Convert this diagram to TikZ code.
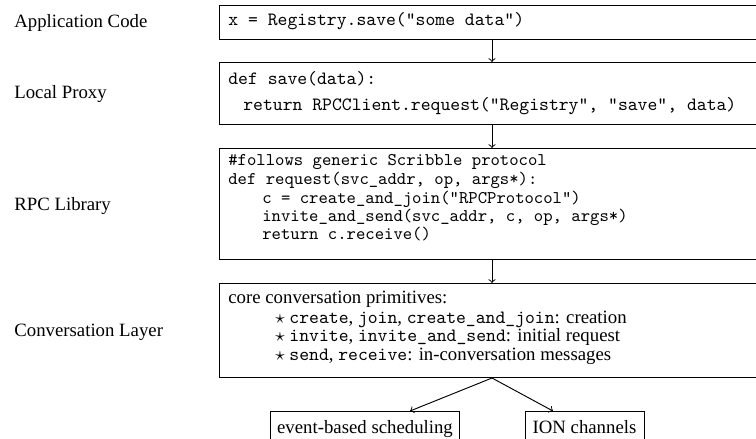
\documentclass[tikz,border=0pt]{standalone}
\usepackage{fontspec}
\setmainfont{Liberation Serif}
\begin{document}
\begin{tikzpicture}[x=0.5325pt,y=-0.5325pt,
  layer/.style={draw, line width=0.5pt, minimum width=290.7pt, anchor=north, inner sep=0pt},
  leaf/.style={draw, line width=0.5pt, anchor=north, inner xsep=3.33pt, inner ysep=5pt},
  tier/.style={anchor=base west, inner sep=0pt, font=\fontsize{10}{12}\selectfont},
  code/.style={anchor=base west, inner sep=0pt, font=\fontsize{10}{12}\ttfamily},
  smallcode/.style={anchor=base west, inner sep=0pt, font=\fontsize{9.5}{11}\ttfamily},
  prose/.style={anchor=base west, inner sep=0pt, font=\fontsize{10}{12}\selectfont},
  arrow/.style={->, line width=0.5pt}]
\useasboundingbox (0,0) rectangle (756,439);

% layer names
\node[tier] (tapp)  at (14,28)  {Application Code};
\node[tier] (tprox) at (14,99)  {Local Proxy};
\node[tier] (trpc)  at (14,211) {RPC Library};
\node[tier] (tconv) at (14,337) {Conversation Layer};

% layer boxes
\node[layer, minimum height=18.1pt] (app)   at (492,5)   {};
\node[layer, minimum height=33.0pt] (proxy) at (492,62)  {};
\node[layer, minimum height=59.1pt] (rpc)   at (492,148) {};
\node[layer, minimum height=50.1pt] (conv)  at (492,283) {};

% application code
\node[code] (c1) at (228,26) {x = Registry.save("some data")};

% local proxy
\node[code] (p1) at (228,85)  {def save(data):};
\node[code] (p2) at (243,111) {return RPCClient.request("Registry", "save", data)};

% rpc library
\node[smallcode] (r1) at (228,166) {\#follows generic Scribble protocol};
\node[smallcode] (r2) at (228,185) {def request(svc\_addr, op, args*):};
\node[smallcode] (r3) at (262,204) {c = create\_and\_join("RPCProtocol")};
\node[smallcode] (r4) at (262,222) {invite\_and\_send(svc\_addr, c, op, args*)};
\node[smallcode] (r5) at (262,240) {return c.receive()};

% conversation layer
\node[prose] (v1) at (228,304) {core conversation primitives:};
\node[prose] (v2) at (275,324) {$\star$ \texttt{create}, \texttt{join}, \texttt{create\_and\_join}: creation};
\node[prose] (v3) at (275,342) {$\star$ \texttt{invite}, \texttt{invite\_and\_send}: initial request};
\node[prose] (v4) at (275,361) {$\star$ \texttt{send}, \texttt{receive}: in-conversation messages};

% underlying services
\node[leaf, minimum width=100.1pt] (sched) at (365,411)   {event-based scheduling};
\node[leaf, minimum width=63.4pt]  (ion)   at (584.5,411) {ION channels};

% call flow
\draw[arrow] (app) -- (proxy);
\draw[arrow] (proxy) -- (rpc);
\draw[arrow] (rpc) -- (conv);
\draw[arrow] (conv.south) -- ([xshift=24pt]sched.north);
\draw[arrow] (conv.south) -- ([xshift=-16.8pt]ion.north);
\end{tikzpicture}
\end{document}
